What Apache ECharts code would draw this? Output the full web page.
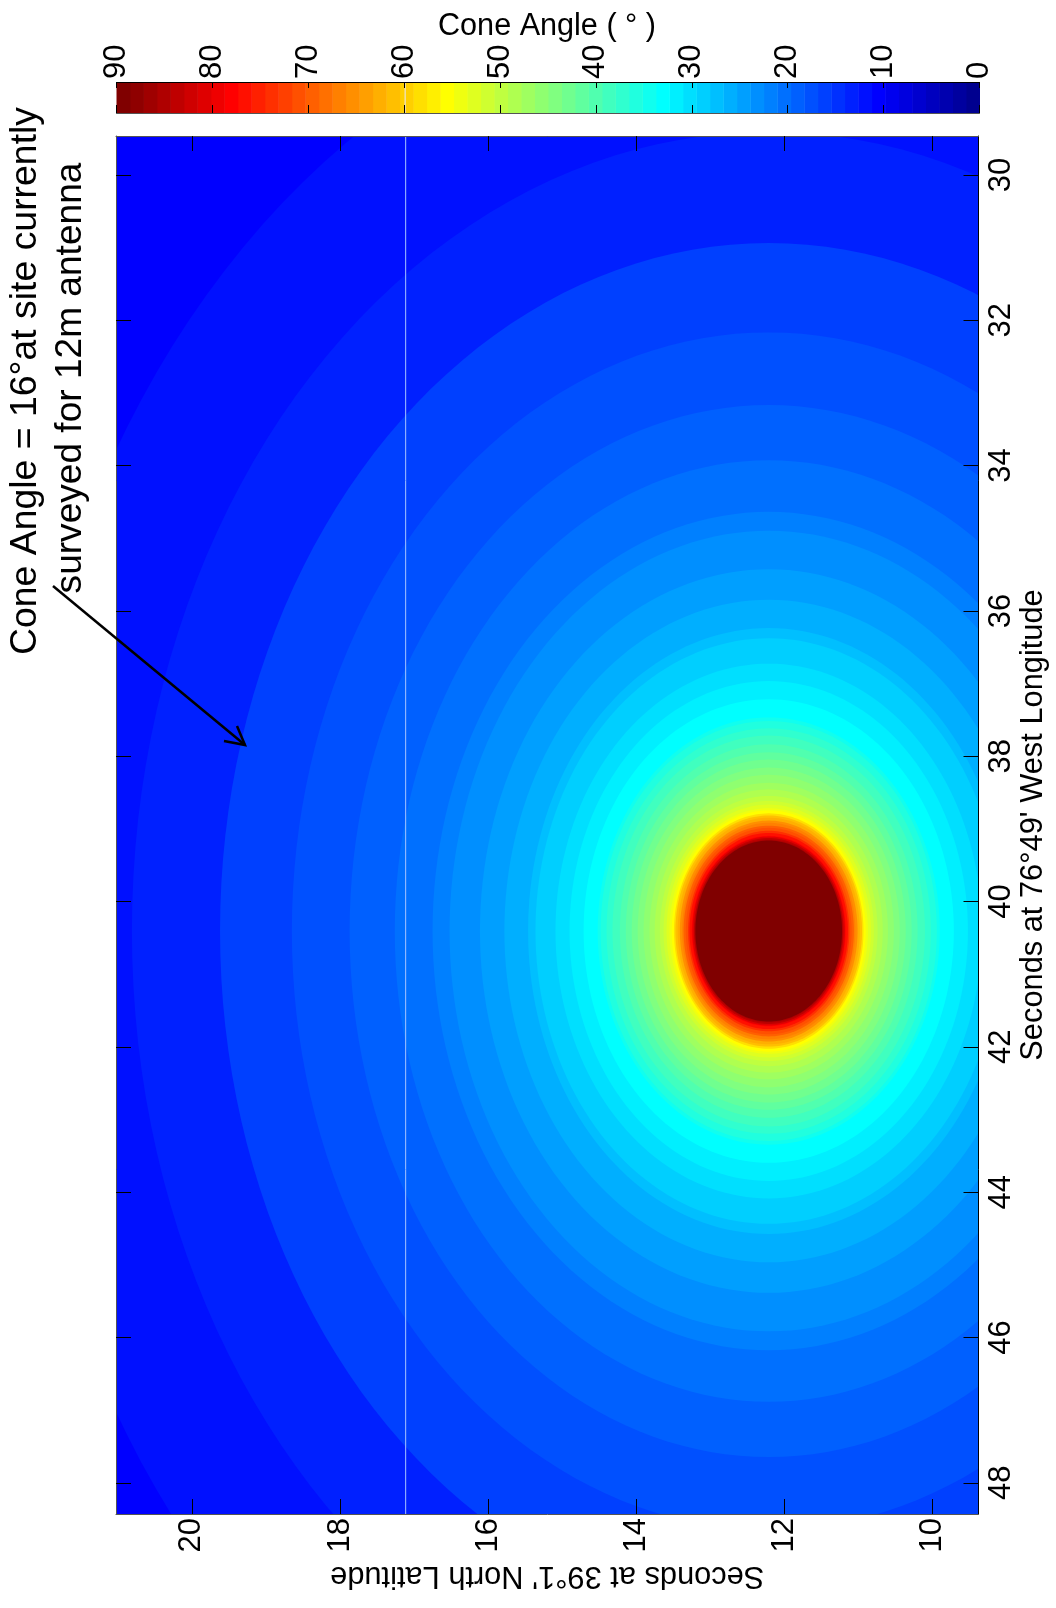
<!DOCTYPE html>
<html>
<head>
<meta charset="utf-8">
<style>html,body{margin:0;padding:0;background:#fff}#c{width:1056px;height:1608px}</style>
<script src="https://cdn.jsdelivr.net/npm/echarts@6/dist/echarts.min.js"></script>
</head>
<body>
<div id="c"></div>
<script>
// Tick labels
const latTicks = [10, 12, 14, 16, 18, 20];
const lonTicks = [30, 32, 34, 36, 38, 40, 42, 44, 46, 48];
const coneTicks = [0, 10, 20, 30, 40, 50, 60, 70, 80, 90];
// Extent of the map (seconds)
const latRange = [9.377, 21.025];
const lonRange = [29.463, 48.43];
// Peak of the field (seconds of latitude, longitude)
const peak = [12.21, 40.406];
// Background cone angle outside the outermost contour (degrees)
const outerAngle = 10.55;
// Filled contours, outermost first: cone angle (degrees) and semi-axes (seconds)
const bandAngle = [11.95, 13.36, 16.17, 17.58, 18.98, 20.39, 21.8, 23.2, 24.61, 26.02, 27.42, 28.83, 30.23, 31.64, 33.05,
  34.45, 35.86, 37.27, 38.67, 40.08, 41.48, 42.89, 44.3, 45.7, 47.11, 48.52, 49.92, 51.33, 52.73, 54.14, 55.55,
  58.36, 61.17, 62.58, 65.39, 66.8, 69.61, 71.02, 73.83, 76.64, 78.05, 80.86, 83.67, 85.08, 89.3];
const bandSemiLat = [10.22, 8.60, 7.41, 6.44, 5.66, 5.05, 4.54, 4.31, 3.90, 3.57, 3.25, 3.15, 2.88, 2.69, 2.50,
  2.31, 2.27, 2.19, 2.11, 2.01, 1.93, 1.85, 1.77, 1.69, 1.61, 1.54, 1.47, 1.42, 1.38, 1.34, 1.31,
  1.28, 1.26, 1.23, 1.20, 1.17, 1.15, 1.12, 1.09, 1.07, 1.04, 1.03, 1.01, 1.00, 0.99];
const bandSemiLon = [13.08, 11.0, 9.47, 8.24, 7.24, 6.48, 5.77, 5.51, 4.98, 4.56, 4.17, 4.03, 3.68, 3.44, 3.19,
  2.94, 2.89, 2.79, 2.69, 2.57, 2.46, 2.36, 2.25, 2.15, 2.04, 1.95, 1.86, 1.79, 1.74, 1.69, 1.66,
  1.62, 1.59, 1.56, 1.52, 1.49, 1.45, 1.42, 1.38, 1.35, 1.31, 1.30, 1.28, 1.26, 1.246];
// Colour bar steps
const colorSteps = [0,1,2,3,4,5,6,7,8,9,10,11,12,13,14,15,16,17,18,19,20,21,22,23,24,25,26,27,28,29,30,31,
  32,33,34,35,36,37,38,39,40,41,42,43,44,45,46,47,48,49,50,51,52,53,54,55,56,57,58,59,60,61,62,63];
// White stripe across the figure
const stripeLat = 17.113;
const stripeCone = 59.9;

const FONT = '"Liberation Sans", Arial, sans-serif';
const maxCone = 90;
const stepCount = colorSteps.length;

function jet(i) {
  let r, g, b;
  r = i <= 23 ? 0 : i <= 39 ? (i - 23) / 16 : i <= 55 ? 1 : (71 - i) / 16;
  g = i <= 7 ? 0 : i <= 23 ? (i - 7) / 16 : i <= 39 ? 1 : i <= 55 ? (55 - i) / 16 : 0;
  b = i < 7 ? (i + 9) / 16 : i <= 23 ? 1 : i <= 39 ? (39 - i) / 16 : 0;
  return 'rgb(' + [r, g, b].map(v => Math.round(v * 255)).join(',') + ')';
}
const angleColor = a => jet(Math.min(stepCount - 1, Math.floor(a / maxCone * stepCount)));

const contourData = bandAngle.map((a, i) => [peak[0], peak[1], bandSemiLat[i], bandSemiLon[i], a]);
const barData = colorSteps.map(s => [s * maxCone / stepCount, (s + 1) * maxCone / stepCount, s]);

function renderContour(params, api) {
  const cx = api.value(0), cy = api.value(1), sx = api.value(2), sy = api.value(3);
  const pts = [];
  for (let k = 0; k < 180; k++) {
    const t = k / 180 * 2 * Math.PI;
    pts.push(api.coord([cx + sx * Math.cos(t), cy + sy * Math.sin(t)]));
  }
  return { type: 'polygon', shape: { points: pts }, style: { fill: angleColor(api.value(4)), stroke: null } };
}
function renderStep(params, api) {
  const a = api.coord([api.value(0), 0]);
  const b = api.coord([api.value(1), 1]);
  return {
    type: 'rect',
    shape: { x: Math.min(a[0], b[0]), y: Math.min(a[1], b[1]), width: Math.abs(a[0] - b[0]) + 0.5, height: Math.abs(a[1] - b[1]) },
    style: { fill: jet(api.value(2)) }
  };
}

const labelStyle = { color: '#000', fontFamily: FONT, fontSize: 31 };
const nameStyle = { color: '#000', fontFamily: FONT, fontSize: 30.8 };
const edgeGray = '#555';
function mapXAxis(pos, labelled) {
  return {
    gridIndex: 0, type: 'value', min: latRange[0], max: latRange[1], inverse: true, position: pos, z: 10,
    name: labelled ? "Seconds at 39°1' North Latitude" : '', nameLocation: 'middle', nameRotate: 180, nameGap: 46,
    nameTextStyle: nameStyle,
    axisLine: { show: true, onZero: false, lineStyle: { color: edgeGray, width: 1 } },
    axisTick: { show: true, inside: true, length: 15, customValues: latTicks, lineStyle: { color: '#000', width: 1 } },
    axisLabel: { show: labelled, customValues: latTicks, rotate: 90, margin: 4, ...labelStyle },
    splitLine: { show: false }
  };
}
function mapYAxis(pos, labelled) {
  return {
    gridIndex: 0, type: 'value', min: lonRange[0], max: lonRange[1], inverse: true, position: pos, z: 10,
    name: labelled ? "Seconds at 76°49' West Longitude" : '', nameLocation: 'middle', nameRotate: 90, nameGap: 40, nameMoveOverlap: false,
    nameTextStyle: nameStyle,
    axisLine: { show: true, onZero: false, lineStyle: { color: labelled ? '#000' : edgeGray, width: 1 } },
    axisTick: { show: true, inside: true, length: 15, customValues: lonTicks, lineStyle: { color: '#000', width: 1 } },
    axisLabel: { show: labelled, customValues: lonTicks, rotate: 90, margin: 7, ...labelStyle },
    splitLine: { show: false }
  };
}
function barXAxis(pos, labelled, len) {
  return {
    gridIndex: 1, type: 'value', min: 0, max: maxCone, inverse: true, position: pos, z: 10,
    axisLine: { show: true, onZero: false, lineStyle: { color: labelled ? '#000' : edgeGray, width: 1 } },
    axisTick: { show: true, inside: true, length: len, customValues: coneTicks, lineStyle: { color: '#000', width: 1 } },
    axisLabel: { show: labelled, customValues: coneTicks, rotate: -90, margin: 3, ...labelStyle },
    splitLine: { show: false }
  };
}

const chart = echarts.init(document.getElementById('c'), null, { renderer: 'canvas' });
chart.setOption({
  animation: false,
  backgroundColor: '#fff',
  title: {
    text: 'Cone Angle ( ° )', left: 542, top: 6, textAlign: 'center',
    textStyle: { color: '#000', fontFamily: FONT, fontSize: 30.6, fontWeight: 'normal' }
  },
  grid: [
    { left: 116, top: 136, width: 862.5, height: 1378, show: true, backgroundColor: jet(Math.floor(outerAngle / maxCone * stepCount)), borderWidth: 0, outerBoundsMode: 'none', containLabel: false },
    { left: 116.5, top: 82, width: 863, height: 31, show: false, outerBoundsMode: 'none', containLabel: false }
  ],
  xAxis: [mapXAxis('bottom', true), mapXAxis('top', false), barXAxis('top', true, 6), barXAxis('bottom', false, 8)],
  yAxis: [
    mapYAxis('right', true), mapYAxis('left', false),
    { gridIndex: 1, type: 'value', min: 0, max: 1, show: false }
  ],
  series: [
    {
      name: 'Cone angle', type: 'custom', xAxisIndex: 0, yAxisIndex: 0, clip: true, silent: true, z: 1,
      renderItem: renderContour, encode: { x: 0, y: 1 }, data: contourData
    },
    {
      name: 'Stripe', type: 'line', xAxisIndex: 0, yAxisIndex: 0, silent: true, z: 2, symbol: 'none',
      lineStyle: { color: '#a8c4ff', width: 1 }, data: [[stripeLat, lonRange[0]], [stripeLat, lonRange[1]]]
    },
    {
      name: 'Colour bar', type: 'custom', xAxisIndex: 2, yAxisIndex: 2, clip: true, silent: true, z: 1,
      renderItem: renderStep, encode: { x: [0, 1] }, data: barData
    },
    {
      name: 'Bar stripe', type: 'line', xAxisIndex: 2, yAxisIndex: 2, silent: true, z: 2, symbol: 'none',
      lineStyle: { color: '#e8e8ff', width: 1 }, data: [[stripeCone, 0], [stripeCone, 1]]
    }
  ],
  graphic: [
    { type: 'text', x: 26, y: 381, rotation: Math.PI / 2, z: 20,
      style: { text: 'Cone Angle = 16°at site currently', font: '37.4px ' + FONT, fill: '#000', align: 'center', verticalAlign: 'middle' } },
    { type: 'text', x: 71, y: 378, rotation: Math.PI / 2, z: 20,
      style: { text: 'surveyed for 12m antenna', font: '37.1px ' + FONT, fill: '#000', align: 'center', verticalAlign: 'middle' } },
    { type: 'line', z: 20, shape: { x1: 53, y1: 586, x2: 245, y2: 745 }, style: { stroke: '#000', lineWidth: 2.5 } },
    { type: 'polyline', z: 20, shape: { points: [[237, 726], [245, 745], [224, 741]] }, style: { stroke: '#000', lineWidth: 2.5, fill: null } }
  ]
});
</script>
</body>
</html>
